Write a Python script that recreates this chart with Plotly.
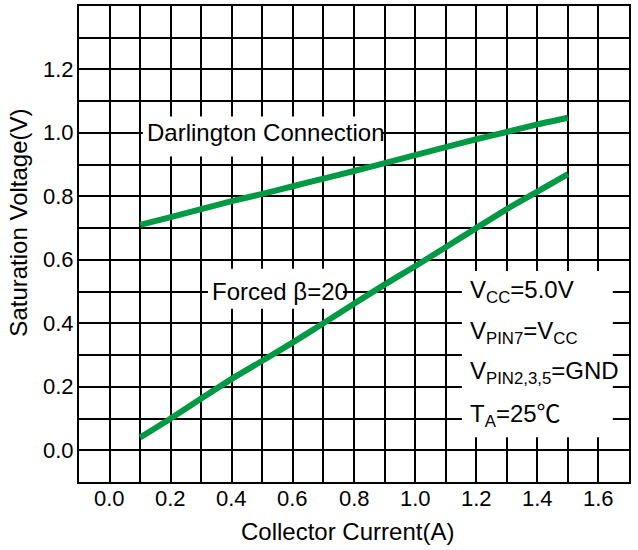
import plotly.graph_objects as go

# Collector current (A) sample points shared by both curves
collector_current = [0.1, 0.2, 0.3, 0.4, 0.5, 0.6, 0.7, 0.8, 0.9, 1.0, 1.1, 1.2, 1.3, 1.4, 1.5]

# Saturation voltage (V), Darlington connection
vsat_darlington = [0.71, 0.735, 0.76, 0.785, 0.808, 0.832, 0.856, 0.88, 0.905, 0.93,
                   0.955, 0.98, 1.003, 1.027, 1.048]

# Saturation voltage (V), forced beta = 20
vsat_forced = [0.04, 0.10, 0.163, 0.225, 0.282, 0.34, 0.40, 0.462, 0.522, 0.58,
               0.64, 0.70, 0.76, 0.815, 0.87]

x_tick_vals = [0.0, 0.2, 0.4, 0.6, 0.8, 1.0, 1.2, 1.4, 1.6]
x_tick_text = ["0.0", "0.2", "0.4", "0.6", "0.8", "1.0", "1.2", "1.4", "1.6"]
y_tick_vals = [0.0, 0.2, 0.4, 0.6, 0.8, 1.0, 1.2]
y_tick_text = ["0.0", "0.2", "0.4", "0.6", "0.8", "1.0", "1.2"]

conditions = ["V<sub>CC</sub>=5.0V", "V<sub>PIN7</sub>=V<sub>CC</sub>",
              "V<sub>PIN2,3,5</sub>=GND",
              "T<sub>A</sub>=25<span style=\"font-family:'Noto Sans CJK SC'\">℃</span>"]

FONT = "Arial, 'Liberation Sans', sans-serif"
GREEN = "#009944"
TICK_FONT = dict(family=FONT, size=22, color="black")
TEXT_FONT = dict(family=FONT, size=24, color="black")

fig = go.Figure()
for yv in (vsat_darlington, vsat_forced):
    fig.add_trace(go.Scatter(x=collector_current, y=yv, mode="lines",
                             line=dict(color=GREEN, width=6, shape="spline", smoothing=0.6),
                             showlegend=False, hoverinfo="skip"))

# Grid every 0.1 on both axes; tick labels are placed as annotations below
grid = dict(showgrid=True, gridcolor="black", gridwidth=2, zeroline=False,
            showline=True, linecolor="black", linewidth=2, mirror=True,
            ticks="", showticklabels=False, tickmode="array",
            minor=dict(tickmode="linear", tick0=0, dtick=0.1, showgrid=True,
                       gridcolor="black", gridwidth=2))

fig.update_xaxes(range=[-0.1, 1.7], tickvals=x_tick_vals, **grid)
fig.update_yaxes(range=[-0.1, 1.4], tickvals=y_tick_vals, **grid)

for v, t in zip(x_tick_vals, x_tick_text):
    fig.add_annotation(x=v, xref="x", y=-0.0356, yref="paper", text=t, showarrow=False,
                       xanchor="center", yanchor="middle", font=TICK_FONT)
for v, t in zip(y_tick_vals, y_tick_text):
    fig.add_annotation(x=-0.0055, xref="paper", y=v, yref="y", text=t, showarrow=False,
                       xanchor="right", yanchor="middle", font=TICK_FONT)

# White label backgrounds sit between the grid and the curves
boxes = [(0.109, 0.926, 0.891, 1.052), (0.322, 0.446, 0.764, 0.572), (1.153, 0.041, 1.647, 0.565)]
for x0, y0, x1, y1 in boxes:
    fig.add_shape(type="rect", x0=x0, y0=y0, x1=x1, y1=y1, xref="x", yref="y",
                  fillcolor="white", line=dict(width=0), layer="between")

annotations = [
    dict(x=0.116, y=1.0, text="Darlington Connection", xanchor="left", yanchor="middle"),
    dict(x=0.329, y=0.5, text="Forced β=20", xanchor="left", yanchor="middle"),
]
for text, yy in zip(conditions, [0.5, 0.37, 0.245, 0.12]):
    annotations.append(dict(x=1.173, y=yy, text=text, xanchor="left", yanchor="middle"))
for a in annotations:
    fig.add_annotation(xref="x", yref="y", showarrow=False, font=TEXT_FONT, **a)

fig.add_annotation(xref="paper", yref="paper", x=0.489, y=-0.105, text="Collector Current(A)",
                   showarrow=False, xanchor="center", yanchor="middle", font=TEXT_FONT)
fig.add_annotation(xref="paper", yref="paper", x=-0.109, y=0.545, text="Saturation Voltage(V)",
                   showarrow=False, xanchor="center", yanchor="middle", textangle=-90,
                   font=TEXT_FONT)

fig.update_layout(width=638, height=550, margin=dict(l=79, r=9, t=4, b=68),
                  paper_bgcolor="white", plot_bgcolor="white")

fig.write_html("out.html")
